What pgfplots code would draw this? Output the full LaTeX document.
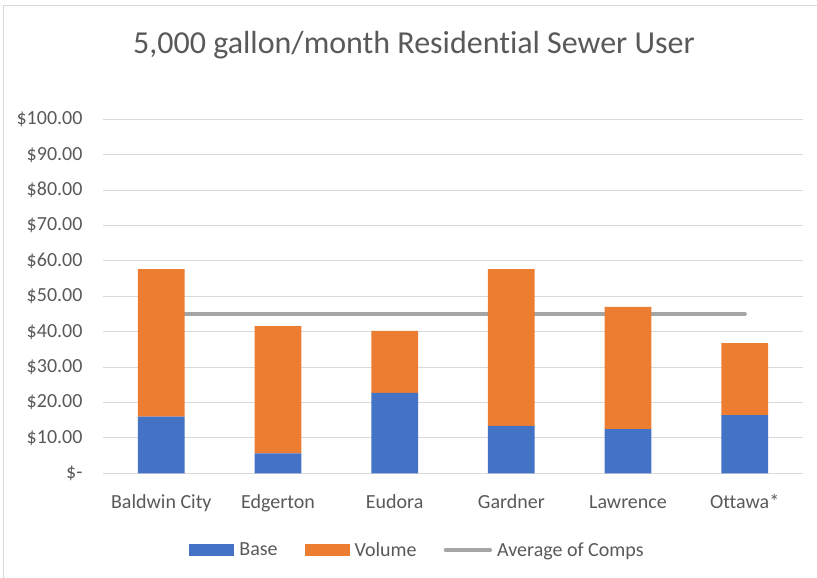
\documentclass[border=0pt]{standalone}
\usepackage{pgfplots}
\pgfplotsset{compat=1.18}
\usepackage{fontspec}
\setmainfont{Carlito}[Ligatures={NoCommon}]
\definecolor{cBase}{HTML}{4472C4}
\definecolor{cVol}{HTML}{ED7D31}
\definecolor{cAvg}{HTML}{A5A5A5}
\definecolor{cGrid}{HTML}{D9D9D9}
\definecolor{cText}{HTML}{595959}
\begin{document}
\begin{tikzpicture}
\path[use as bounding box] (0pt,0pt) rectangle (817pt,578pt);
\draw[cGrid, line width=1pt] (3.5pt,0pt) -- (3.5pt,572pt) -- (817pt,572pt);
\node[text=cText, font=\fontsize{32}{38}\selectfont] at (414pt,533pt) {5,000 gallon/month Residential Sewer User};
\begin{axis}[
  at={(103pt,104.7pt)}, anchor=south west,
  width=700pt, height=354pt, scale only axis,
  ybar stacked, bar width=46.7pt,
  xmin=-0.5, xmax=5.5, ymin=0, ymax=100,
  xtick={0,1,2,3,4,5},
  xticklabels={Baldwin City, Edgerton, Eudora, Gardner, Lawrence, Ottawa*},
  ytick={0,10,20,30,40,50,60,70,80,90,100},
  yticklabels={\$-\hspace{8pt}, \$10.00, \$20.00, \$30.00, \$40.00, \$50.00, \$60.00, \$70.00, \$80.00, \$90.00, \$100.00},
  major tick length=0pt,
  axis x line*=bottom, axis y line*=left,
  x axis line style={cGrid, line width=1pt, -},
  y axis line style={draw=none},
  ymajorgrids, grid style={cGrid, line width=1pt},
  tick label style={text=cText, font=\fontsize{20}{24}\selectfont},
  yticklabel style={anchor=east, xshift=-17pt},
  xticklabel style={anchor=base, yshift=-35.7pt},
  legend columns=3,
  legend style={at={(419pt-103pt,28pt-104.7pt)}, anchor=center, draw=none, fill=none,
    font=\fontsize{20}{24}\selectfont, text=cText,
    /tikz/every even column/.append style={column sep=22pt},
    nodes={inner xsep=5pt}},
]
\addplot[fill=cBase, draw=none, legend image code/.code={\fill[cBase] (0pt,-6.35pt) rectangle (45pt,6.35pt);}]
  coordinates {(0,16.0) (1,5.65) (2,22.7) (3,13.4) (4,12.5) (5,16.4)};
\addlegendentry{Base}
\addplot[fill=cVol, draw=none, legend image code/.code={\fill[cVol] (0pt,-6.35pt) rectangle (45pt,6.35pt);}]
  coordinates {(0,41.7) (1,35.95) (2,17.5) (3,44.3) (4,34.5) (5,20.4)};
\addlegendentry{Volume}
\addplot[stack plots=false, sharp plot, draw=cAvg, line width=4.5pt, line cap=round, mark=none,
  legend image code/.code={\draw[cAvg, line width=4.5pt, line cap=round] (2pt,0pt) -- (46pt,0pt);}]
  coordinates {(0,45) (1,45) (2,45) (3,45) (4,45) (5,45)};
\addlegendentry{Average of Comps}
\end{axis}
\end{tikzpicture}
\end{document}
